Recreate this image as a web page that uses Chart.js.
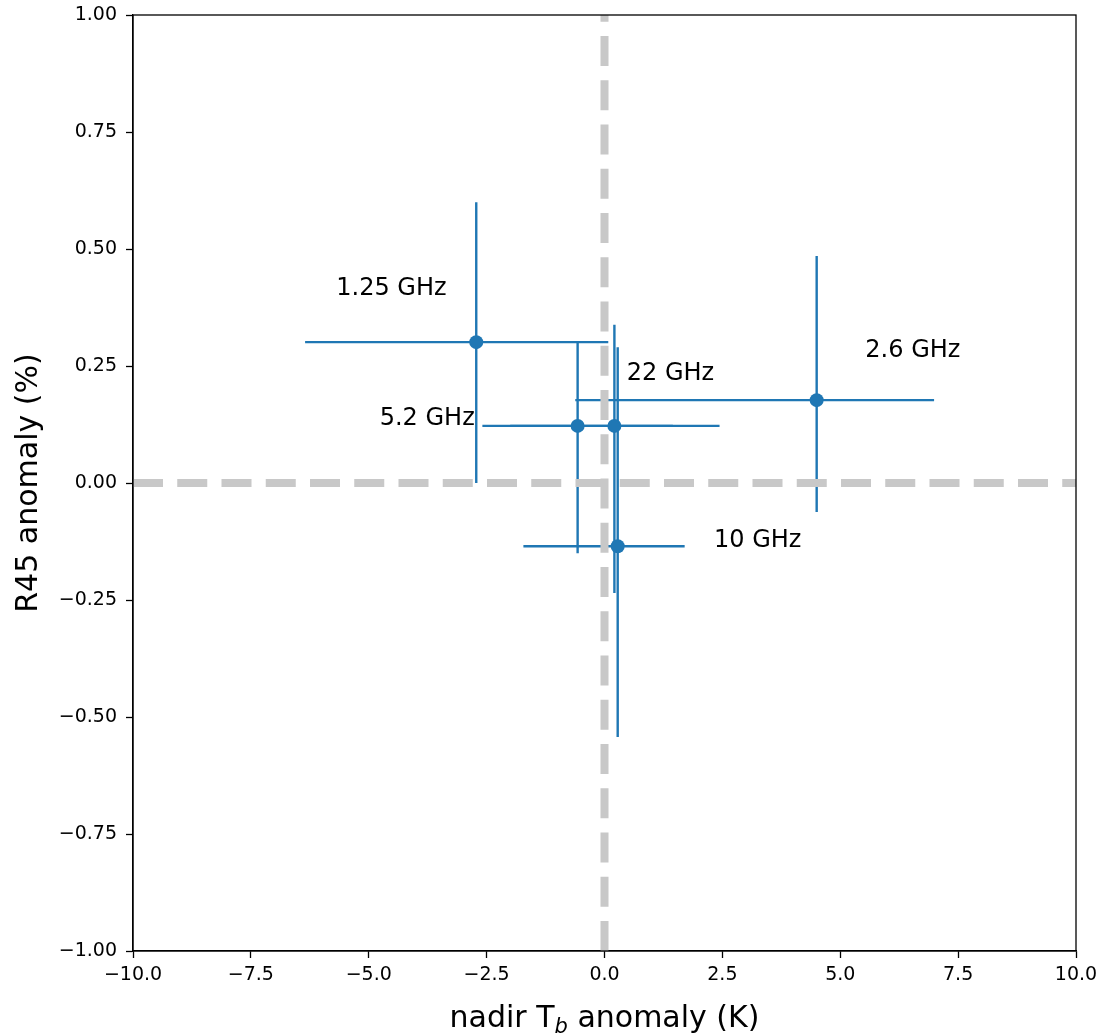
<!DOCTYPE html>
<html>
<head>
<meta charset="utf-8">
<script src="https://cdn.jsdelivr.net/npm/chart.js@4.4.1/dist/chart.umd.min.js"></script>
<style>
    body { margin: 0; background: #fff; }
    #wrap { width: 1107px; height: 1036px; }
</style>
</head>
<body>
<div id="wrap"><canvas id="anomaly-chart" width="1107" height="1036"></canvas></div>
<script>
// frequency bands and their anomalies
var bands = ['1.25 GHz', '2.6 GHz', '5.2 GHz', '10 GHz', '22 GHz'];
var tbAnomaly = [-2.72, 4.50, -0.57, 0.28, 0.21];
var r45Anomaly = [0.301, 0.177, 0.122, -0.135, 0.122];

// ends of the error bars
var tbLow = [-6.35, -0.62, -2.59, -1.72, -2.00];
var tbHigh = [0.08, 6.99, 1.45, 1.70, 2.44];
var r45Low = [0.0, -0.062, -0.15, -0.543, -0.235];
var r45High = [0.60, 0.485, 0.30, 0.29, 0.338];

// where the band names are written (data units, text centre / baseline)
var labelTb = [-4.52, 6.54, -3.76, 3.25, 1.40];
var labelR45 = [0.402, 0.269, 0.124, -0.137, 0.220];

var xTicks = [-10, -7.5, -5, -2.5, 0, 2.5, 5, 7.5, 10];
var yTicks = [-1, -0.75, -0.5, -0.25, 0, 0.25, 0.5, 0.75, 1];

var BLUE = '#1f77b4';
var FONT = '"DejaVu Sans", sans-serif';

function minus(s) {
    return s.replace('-', '\u2212');
}

// error bars go under the markers
var errorBars = {
    id: 'errorBars',
    beforeDatasetsDraw: function (chart) {
        var ctx = chart.ctx;
        var xs = chart.scales.x;
        var ys = chart.scales.y;
        ctx.save();
        ctx.strokeStyle = BLUE;
        ctx.lineWidth = 2.4;
        for (var i = 0; i < bands.length; i++) {
            var px = xs.getPixelForValue(tbAnomaly[i]);
            var py = ys.getPixelForValue(r45Anomaly[i]);
            ctx.beginPath();
            ctx.moveTo(xs.getPixelForValue(tbLow[i]), py);
            ctx.lineTo(xs.getPixelForValue(tbHigh[i]), py);
            ctx.moveTo(px, ys.getPixelForValue(r45Low[i]));
            ctx.lineTo(px, ys.getPixelForValue(r45High[i]));
            ctx.stroke();
        }
        ctx.restore();
    }
};

// dashed zero lines, band names, frame and axis titles
var decorations = {
    id: 'decorations',
    afterDatasetsDraw: function (chart) {
        var ctx = chart.ctx;
        var xs = chart.scales.x;
        var ys = chart.scales.y;
        var a = chart.chartArea;

        ctx.save();
        ctx.strokeStyle = '#c8c8c8';
        ctx.lineWidth = 8;
        ctx.setLineDash([30, 14.25]);
        var y0 = ys.getPixelForValue(0);
        ctx.beginPath();
        ctx.moveTo(a.left, y0);
        ctx.lineTo(a.right, y0);
        ctx.stroke();
        var x0 = xs.getPixelForValue(0);
        ctx.beginPath();
        ctx.moveTo(x0, a.bottom);
        ctx.lineTo(x0, a.top);
        ctx.stroke();
        ctx.restore();

        ctx.save();
        ctx.fillStyle = '#000';
        ctx.font = '24px ' + FONT;
        ctx.textAlign = 'center';
        ctx.textBaseline = 'alphabetic';
        for (var i = 0; i < bands.length; i++) {
            ctx.fillText(bands[i], xs.getPixelForValue(labelTb[i]), ys.getPixelForValue(labelR45[i]));
        }
        ctx.restore();
    },
    afterDraw: function (chart) {
        var ctx = chart.ctx;
        var a = chart.chartArea;

        ctx.save();
        ctx.strokeStyle = '#000';
        ctx.lineWidth = 1.3;
        ctx.strokeRect(a.left, a.top, a.right - a.left, a.bottom - a.top);

        // x title with subscript b
        ctx.fillStyle = '#000';
        ctx.textBaseline = 'alphabetic';
        ctx.textAlign = 'left';
        var big = '30px ' + FONT;
        var sub = 'italic 21px ' + FONT;
        var p1 = 'nadir T', p2 = 'b', p3 = ' anomaly (K)';
        ctx.font = big;
        var w1 = ctx.measureText(p1).width;
        var w3 = ctx.measureText(p3).width;
        ctx.font = sub;
        var w2 = ctx.measureText(p2).width;
        var cx = (a.left + a.right) / 2;
        var sx = cx - (w1 + w2 + w3) / 2;
        var base = 1027;
        ctx.font = big;
        ctx.fillText(p1, sx, base);
        ctx.font = sub;
        ctx.fillText(p2, sx + w1, base + 6);
        ctx.font = big;
        ctx.fillText(p3, sx + w1 + w2, base);

        // y title
        ctx.translate(37, (a.top + a.bottom) / 2);
        ctx.rotate(-Math.PI / 2);
        ctx.textAlign = 'center';
        ctx.font = big;
        ctx.fillText('R45 anomaly (%)', 0, 0);
        ctx.restore();
    }
};

var ctx = document.getElementById('anomaly-chart').getContext('2d');
var chart = new Chart(ctx, {
    type: 'scatter',
    data: {
        datasets: [{
            label: 'anomaly',
            data: tbAnomaly.map(function (v, i) {
                return { x: v, y: r45Anomaly[i] };
            }),
            backgroundColor: BLUE,
            borderColor: BLUE,
            pointRadius: 7,
            pointHoverRadius: 7,
            borderWidth: 0
        }]
    },
    options: {
        responsive: false,
        animation: false,
        events: [],
        layout: {
            padding: { top: 15, right: 31, left: 0, bottom: 0 }
        },
        plugins: {
            legend: { display: false },
            tooltip: { enabled: false }
        },
        scales: {
            x: {
                type: 'linear',
                min: -10,
                max: 10,
                afterBuildTicks: function (scale) {
                    scale.ticks = xTicks.map(function (v) { return { value: v }; });
                },
                afterFit: function (scale) {
                    scale.height = 85;
                    scale.paddingLeft = 0;
                    scale.paddingRight = 0;
                },
                grid: {
                    drawOnChartArea: false,
                    drawTicks: true,
                    tickLength: 7,
                    tickColor: '#000',
                    tickWidth: 1.3
                },
                border: { display: true, color: '#000', width: 1.3 },
                ticks: {
                    color: '#000',
                    padding: 6,
                    maxRotation: 0,
                    font: { family: FONT, size: 19 },
                    callback: function (v) { return minus(v.toFixed(1)); }
                }
            },
            y: {
                type: 'linear',
                min: -1,
                max: 1,
                afterBuildTicks: function (scale) {
                    scale.ticks = yTicks.map(function (v) { return { value: v }; });
                },
                afterFit: function (scale) {
                    scale.width = 133;
                    scale.paddingTop = 0;
                    scale.paddingBottom = 0;
                },
                grid: {
                    drawOnChartArea: false,
                    drawTicks: true,
                    tickLength: 7,
                    tickColor: '#000',
                    tickWidth: 1.3
                },
                border: { display: true, color: '#000', width: 1.3 },
                ticks: {
                    color: '#000',
                    padding: 9,
                    font: { family: FONT, size: 19 },
                    callback: function (v) { return minus(v.toFixed(2)); }
                }
            }
        }
    },
    plugins: [errorBars, decorations]
});
</script>
</body>
</html>
